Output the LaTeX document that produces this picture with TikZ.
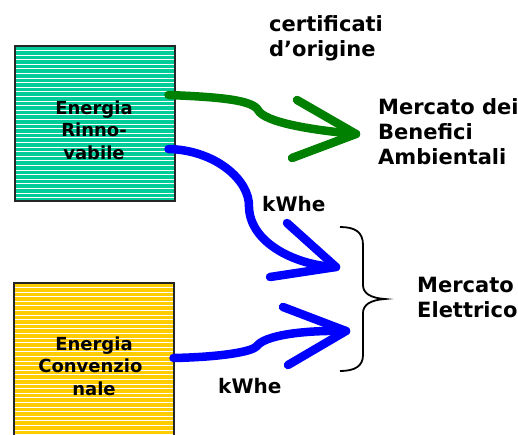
\documentclass[tikz,border=0pt]{standalone}
\usepackage{fontspec}
\setmainfont{DejaVu Sans}
\usepackage{tikz}
\usetikzlibrary{calc,positioning}
\definecolor{rinc}{HTML}{00CC99}
\definecolor{convc}{HTML}{FFCC00}
\definecolor{greenc}{HTML}{008000}
\definecolor{bluec}{HTML}{0000FF}
\tikzset{
  flow/.style={line width=8.5pt,line cap=round,line join=round},
  enbox/.style={draw=black!85,line width=1.5pt,minimum width=160pt,inner sep=0pt,
    path picture={\foreach \k in {1,...,36}
      \draw[white,line width=0.9pt] ([yshift=-\k*4.6pt]path picture bounding box.north west) -- ++(170,0);}},
  lbl/.style={font=\bfseries\fontsize{21}{25}\selectfont,align=left,inner sep=0pt},
  blbl/.style={font=\bfseries\fontsize{18}{22.5}\selectfont,align=center,inner sep=0pt},
  kwlbl/.style={font=\bfseries\fontsize{20}{24}\selectfont,inner sep=0pt,anchor=west}
}

\begin{document}
\begin{tikzpicture}[x=1pt,y=-1pt]
\useasboundingbox (0,0) rectangle (518,434);
\clip (0,0) rectangle (518,434);
% energy sources
\node[enbox,fill=rinc,minimum height=155pt,anchor=north west] (rin) at (14,45) {};
\node[enbox,fill=convc,minimum height=163pt,anchor=north west] (conv) at (13,282) {};
\node[blbl] (rintx) at (94,130) {Energia\\Rinno-\\vabile};
\node[blbl] (convtx) at (94,366) {Energia\\Convenzio\kern0.4em\\nale};
% markets
\node[lbl,anchor=west] (cert) at (269,38) {certificati\\d’origine};
\node[lbl,anchor=west] (mba) at (378,132) {Mercato dei\\Benefici\\Ambientali};
\node[lbl,anchor=west] (mel) at (417,297) {Mercato\\Elettrico};
\node[kwlbl] (kw1) at (262,204) {kWhe};
\node[kwlbl] (kw2) at (218,386) {kWhe};
\coordinate (gtip) at (356,134);
\coordinate (b1tip) at (336,267);
\coordinate (b2tip) at (346,331);
% flows
\draw[flow,greenc] ([xshift=-7pt,yshift=-50pt]rin.north east) .. controls (220,97) and (252,100) .. (258,110)
  .. controls (264,122) and (310,130) .. (gtip);
\draw[flow,greenc] ($(gtip)+(-59,-34)$) -- (gtip) -- ++(-64,24);
\draw[flow,bluec] ([xshift=-7pt,yshift=-104pt]rin.north east) .. controls (215,150) and (250,180) .. (249,207)
  .. controls (250,245) and (300,266) .. (b1tip);
\draw[flow,bluec] ($(b1tip)+(-49,-44)$) -- (b1tip) -- ++(-66,10);
\draw[flow,bluec] ([xshift=-1pt,yshift=-76pt]conv.north east) .. controls (220,357) and (252,352) .. (257,346)
  .. controls (264,336) and (300,330) .. (b2tip);
\draw[flow,bluec] ($(b2tip)+(-63,-24)$) -- (b2tip) -- ++(-58,34);
% brace
\draw[line width=1.8pt] (340,227) .. controls (355,227) and (363,232) .. (363,245) -- (363,285)
  .. controls (363,293) and (370,298) .. (385,299) .. controls (370,300) and (363,305) .. (363,313) -- (363,355)
  .. controls (363,366) and (355,371) .. (340,371);
\end{tikzpicture}
\end{document}
